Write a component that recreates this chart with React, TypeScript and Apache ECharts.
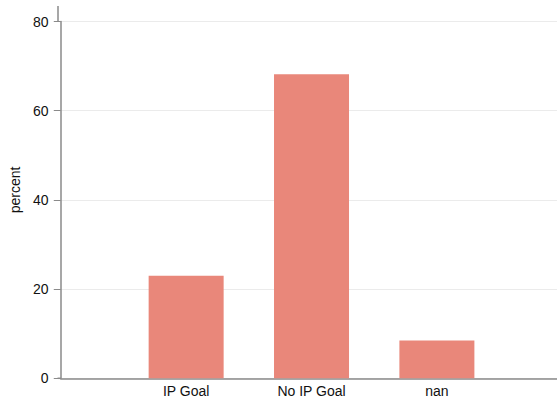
import React, { useEffect, useRef } from "react";
import * as echarts from "echarts";

const categories = ["IP Goal", "No IP Goal", "nan"];
const percents = [23.0, 68.2, 8.5];
const yTicks = [0, 20, 40, 60, 80];

export default function App() {
  const ref = useRef<HTMLDivElement>(null);
  useEffect(() => {
    if (!ref.current) return;
    const chart = echarts.init(ref.current, undefined, { renderer: "svg" });
    const font = "'Liberation Sans', Arial, Helvetica, sans-serif";
    const axisColor = "#8a8a8a";
    chart.setOption({
      animation: false,
      backgroundColor: "#ffffff",
      grid: { left: 60.3, right: 0, top: 21.5, bottom: 26.7, containLabel: false },
      xAxis: {
        type: "value",
        min: 0,
        max: 3.958,
        interval: 1,
        axisLine: { show: true, onZero: false, lineStyle: { color: axisColor, width: 1.5 } },
        axisTick: { show: false },
        splitLine: { show: false },
        axisLabel: {
          color: "#111",
          fontSize: 14,
          fontFamily: font,
          margin: 6,
          showMaxLabel: false,
          formatter: (v: number) => {
            const i = Math.round(v) - 1;
            return Math.abs(v - Math.round(v)) < 1e-6 && i >= 0 && i < categories.length ? categories[i] : "";
          },
        },
      },
      yAxis: {
        type: "value",
        min: yTicks[0],
        max: yTicks[yTicks.length - 1],
        interval: 20,
        offset: 2.3,
        name: "percent",
        nameLocation: "middle",
        nameGap: 31,
        nameTextStyle: { color: "#111", fontSize: 14, fontFamily: font, padding: [0, 0, 0, 20] },
        axisLine: { show: true, lineStyle: { color: axisColor, width: 1.5 } },
        axisTick: { show: true, length: 7, lineStyle: { color: axisColor, width: 1 } },
        axisLabel: { color: "#111", fontSize: 14, fontFamily: font, margin: 10 },
        splitLine: { show: true, lineStyle: { color: "#ebebeb", width: 1 } },
      },
      graphic: [
        {
          type: "line",
          shape: { x1: 58, y1: 6, x2: 58, y2: 22 },
          style: { stroke: axisColor, lineWidth: 1.5 },
        },
        {
          type: "line",
          shape: { x1: 57.5, y1: 378.3, x2: 61, y2: 378.3 },
          style: { stroke: axisColor, lineWidth: 1.5 },
        },
      ],
      series: [
        {
          type: "bar",
          data: percents.map((p, i) => [i + 1, p]),
          barWidth: 75,
          itemStyle: { color: "#e9877a" },
        },
      ],
    });
    return () => chart.dispose();
  }, []);
  return <div ref={ref} style={{ width: 557, height: 405, position: "absolute", left: 0, top: 0 }} />;
}
